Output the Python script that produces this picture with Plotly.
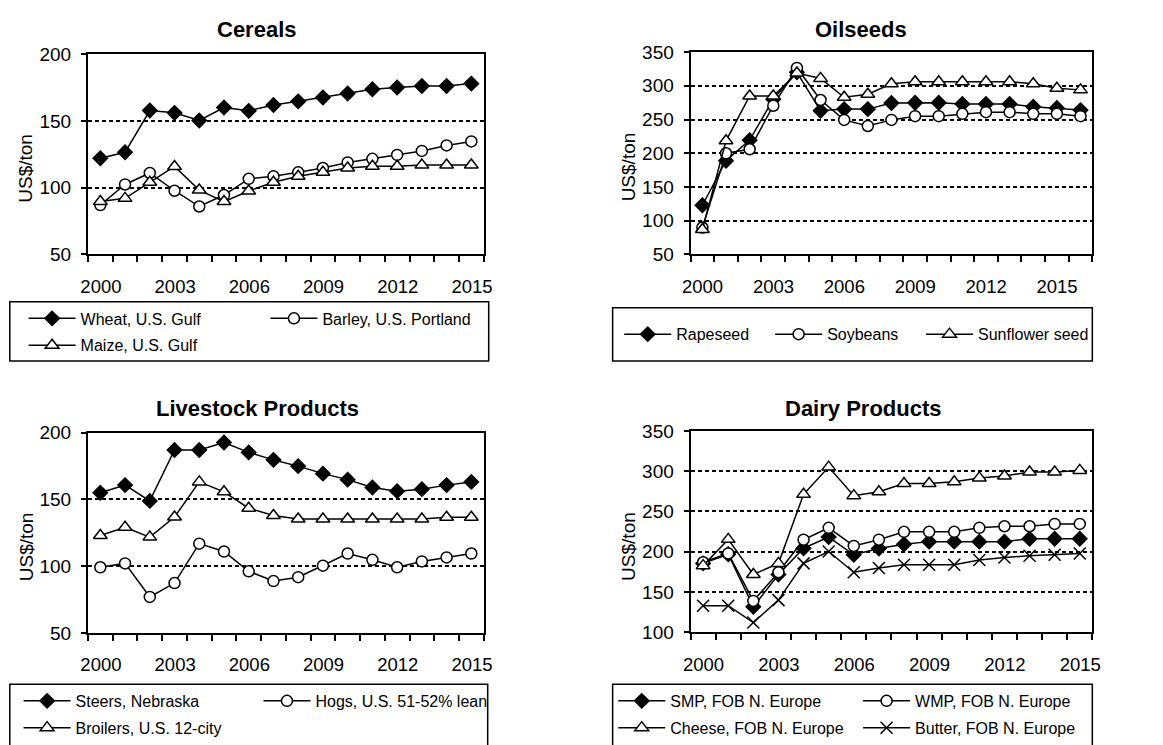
import plotly.graph_objects as go

# ---------------- data ----------------
years16 = list(range(2000, 2016))
years17 = list(range(2000, 2017))
tick_years = [2000, 2003, 2006, 2009, 2012, 2015]

# Cereals
wheat = [122, 126.5, 157.7, 156, 150.3, 160, 157.5, 161.9, 164.6, 167.5, 170.5, 173.7, 175, 176.1, 176.1, 177.9]
barley = [87, 102.4, 111, 97.7, 85.9, 94.5, 106.6, 108.5, 111.5, 114.7, 118.9, 121.6, 124.5, 127.5, 131.6, 134.6]
maize = [89.6, 92, 104, 115.9, 98.2, 89.6, 97.5, 104, 108.5, 111.5, 114.7, 116, 116, 117, 117, 117]

# Oilseeds (2000-2016)
rapeseed = [123, 189, 219.5, 280, 320, 263, 265.5, 265.5, 274.5, 275, 275, 273, 273, 273, 269, 267, 264]
soybeans = [90, 200, 206, 270.5, 326.5, 279, 249.5, 240.5, 249.5, 255, 255, 258.5, 261, 261, 258.5, 258.5, 255]
sunflower = [87, 218.5, 285, 285, 319, 311, 283, 287.5, 303, 306, 306, 306, 306, 306, 303, 296.5, 294]

# Livestock
steers = [155, 160.7, 148.9, 187, 187, 192.6, 185.2, 179.6, 174.9, 169.3, 164.8, 158.9, 156.2, 157.7, 160.7, 163.1]
hogs = [99.2, 102.1, 77, 87.4, 116.9, 111, 96.2, 88.9, 91.8, 100.4, 109.5, 104.8, 99.2, 103.6, 106.6, 109.5]
broilers = [123, 129.2, 121.8, 136.8, 163.1, 155.7, 143.4, 138, 135.3, 135.3, 135.3, 135.3, 135.3, 135.3, 136.6, 136.6]

# Dairy
smp = [185.6, 197, 131.8, 171.8, 204.4, 218.3, 196.3, 204, 209.3, 212.6, 212.6, 212.6, 212.6, 216.2, 216.2, 216.2]
wmp = [187, 198, 139, 174.6, 215, 229.7, 207.3, 215, 224.8, 224.8, 224.8, 229.7, 231.7, 231.7, 234.6, 234.6]
cheese = [182.8, 215.4, 171.8, 185.6, 271.3, 305.1, 269.7, 274.6, 284.7, 284.7, 286.8, 291.7, 294.1, 299, 299, 301]
butter = [133, 133, 112.2, 140, 185.6, 200.3, 174.6, 179.9, 184, 184, 184, 189.7, 193, 195, 196.3, 197.9]

titles = ["Cereals", "Oilseeds", "Livestock Products", "Dairy Products"]
y_title = "US$/ton"

# ---------------- layout helpers ----------------
W, H = 1163, 745
FONT = "Liberation Sans, Arial, Helvetica, sans-serif"
# the page is photographed with a small inset; map target pixel positions to figure pixels
OFF, SX, SY = 8.0, 0.986, 0.979


def fx(px):
    return ((px - OFF) / SX) / W


def fy(py):
    return 1 - ((py - OFF) / SY) / H


def rx(px):  # figure-pixel offset (not mapped)
    return px / W


panels = [
    dict(xd=(87, 483), yd=(52.7, 256), yr=(50, 200), years=years16, tx=256, ty=28, ytx=25, yty=168),
    dict(xd=(690, 1092), yd=(50.7, 256), yr=(50, 350), years=years17, tx=861, ty=28, ytx=628, yty=167),
    dict(xd=(87, 483), yd=(436.7, 640), yr=(50, 200), years=years16, tx=257, ty=412, ytx=25, yty=552),
    dict(xd=(690, 1092), yd=(435, 639.3), yr=(100, 350), years=years16, tx=863, ty=412, ytx=628, yty=552),
]

fig = go.Figure()

SYM = {
    "diamond": dict(symbol="diamond", size=11, color="black"),
    "circle": dict(symbol="circle", size=11, color="white"),
    "triangle": dict(symbol="triangle-up", size=12, color="white"),
    "x": dict(symbol="x-thin", size=12, color="black"),
}


def add(name, x, y, sym, panel, legend):
    ax = "" if panel == 1 else str(panel)
    m = dict(SYM[sym])
    m["line"] = dict(color="black", width=1.5)
    fig.add_trace(go.Scatter(
        x=x, y=y, name=name, mode="lines+markers",
        line=dict(color="black", width=1.5),
        marker=m, xaxis="x" + ax, yaxis="y" + ax,
        legend=legend, legendgroup=name, cliponaxis=False,
    ))


add("Wheat, U.S. Gulf", years16, wheat, "diamond", 1, "legend")
add("Barley, U.S. Portland", years16, barley, "circle", 1, "legend2")
add("Maize, U.S. Gulf", years16, maize, "triangle", 1, "legend")

add("Rapeseed", years17, rapeseed, "diamond", 2, "legend3")
add("Soybeans", years17, soybeans, "circle", 2, "legend8")
add("Sunflower seed", years17, sunflower, "triangle", 2, "legend9")

add("Steers, Nebraska", years16, steers, "diamond", 3, "legend4")
add("Hogs, U.S. 51-52% lean", years16, hogs, "circle", 3, "legend5")
add("Broilers, U.S. 12-city", years16, broilers, "triangle", 3, "legend4")

add("SMP, FOB N. Europe", years16, smp, "diamond", 4, "legend6")
add("WMP, FOB N. Europe", years16, wmp, "circle", 4, "legend7")
add("Cheese, FOB N. Europe", years16, cheese, "triangle", 4, "legend6")
add("Butter, FOB N. Europe", years16, butter, "x", 4, "legend7")

layout = dict(
    width=W, height=H, autosize=False,
    margin=dict(l=0, r=0, t=0, b=0),
    paper_bgcolor="white", plot_bgcolor="white",
    font=dict(family=FONT, color="black", size=16),
    showlegend=True,
    annotations=[], shapes=[],
)

for i, p in enumerate(panels, start=1):
    sfx = "" if i == 1 else str(i)
    yrs = p["years"]
    xr = [yrs[0] - 0.5, yrs[-1] + 0.5]
    bounds = [yrs[0] - 0.5 + k for k in range(len(yrs) + 1)]
    labels = [str(int(b + 0.5)) if int(b + 0.5) in tick_years else "" for b in bounds]
    dom_x = [fx(p["xd"][0]), fx(p["xd"][1])]
    cat_px = (dom_x[1] - dom_x[0]) * W / len(yrs)
    layout["xaxis" + sfx] = dict(
        domain=dom_x, anchor="y" + sfx,
        range=xr, tickmode="array", tickvals=bounds, ticktext=labels,
        ticks="outside", ticklen=6, tickwidth=2, tickcolor="black",
        ticklabelshift=int(round(cat_px / 2)),
        showgrid=False, zeroline=False,
        showline=True, linecolor="black", linewidth=2, mirror=True,
        tickfont=dict(size=18.5, family=FONT, color="black"),
        ticklabelstandoff=8,
    )
    layout["xaxis" + str(i + 4)] = dict(
        domain=dom_x, anchor="y" + sfx,
        overlaying="x" + sfx, range=xr, showticklabels=False,
        tickmode="array", tickvals=bounds,
        ticks="inside", ticklen=5, tickwidth=2, tickcolor="black",
        showgrid=False, zeroline=False, showline=False,
    )
    layout["yaxis" + sfx] = dict(
        domain=[fy(p["yd"][1]), fy(p["yd"][0])], anchor="x" + sfx,
        range=list(p["yr"]), dtick=50, tick0=0,
        ticks="outside", ticklen=5, tickwidth=2, tickcolor="black",
        showline=True, linecolor="black", linewidth=2, mirror=True,
        showgrid=True, gridcolor="black", gridwidth=2, griddash="4px,3px",
        zeroline=False,
        tickfont=dict(size=19, family=FONT, color="black"),
        ticklabelstandoff=6,
    )
    layout["annotations"].append(dict(
        text="<b>%s</b>" % titles[i - 1], x=fx(p["tx"]), y=fy(p["ty"]),
        xref="paper", yref="paper", showarrow=False,
        font=dict(size=22, family=FONT, color="black"),
        xanchor="center", yanchor="middle"))
    layout["annotations"].append(dict(
        text=y_title, x=fx(p["ytx"]), y=fy(p["yty"]), textangle=-90,
        xref="paper", yref="paper", showarrow=False,
        font=dict(size=19, family=FONT, color="black"),
        xanchor="center", yanchor="middle"))

# legend frames (target pixel positions)
boxes = [(8.8, 304, 488, 364), (612, 310, 1092, 364), (8.8, 692, 487, 770), (612, 692, 1092, 770)]
for (x0, y0, x1, y1) in boxes:
    layout["shapes"].append(dict(type="rect", xref="paper", yref="paper",
                                 x0=fx(x0), x1=fx(x1), y0=fy(y0), y1=fy(y1),
                                 line=dict(color="black", width=1.5), fillcolor="rgba(0,0,0,0)"))

leg_common = dict(bgcolor="rgba(0,0,0,0)", borderwidth=0, itemwidth=47,
                  font=dict(size=16, family=FONT, color="black"),
                  xanchor="left", yanchor="top", tracegroupgap=3, orientation="v",
                  itemclick=False, itemdoubleclick=False)

# (line start x, first row centre y) in target pixels
LINE_IN, ROW_IN = 7.5, 17.7
legend_pos = {
    "legend": (30, 321),
    "legend2": (272, 321),
    "legend3": (626, 337),
    "legend8": (777, 337),
    "legend9": (928, 337),
    "legend4": (25, 709),
    "legend5": (265, 709),
    "legend6": (620, 709),
    "legend7": (865, 709),
}
for k, (lx, ly) in legend_pos.items():
    d = dict(leg_common)
    d.update(x=fx(lx) - rx(LINE_IN), y=fy(ly) + ROW_IN / H)
    layout[k] = d

fig.update_layout(**layout)
fig.write_html("out.html", config={"displayModeBar": False},
               post_script="document.body.style.margin='0px';document.body.style.overflow='hidden';")
